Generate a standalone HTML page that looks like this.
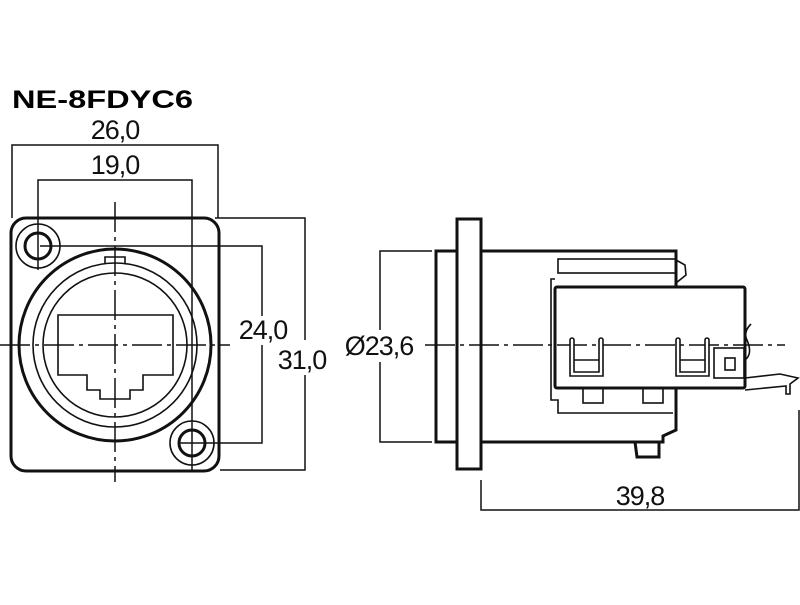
<!DOCTYPE html>
<html><head><style>html,body{margin:0;padding:0;background:#fff}</style></head><body>
<svg width="800" height="600" viewBox="0 0 800 600" xmlns="http://www.w3.org/2000/svg" font-family="Liberation Sans, sans-serif">
<rect width="800" height="600" fill="#fff"/>
<text x="12" y="108" font-size="25" font-weight="bold" textLength="181" lengthAdjust="spacingAndGlyphs">NE-8FDYC6</text>
<g font-size="27" fill="#111" text-anchor="middle" letter-spacing="-1">
<text x="115" y="139">26,0</text>
<text x="115" y="174">19,0</text>
<text x="263" y="339">24,0</text>
<text x="302" y="369">31,0</text>
<text x="379" y="355">Ø23,6</text>
<text x="640" y="505">39,8</text>
</g>
<g fill="none" stroke="#111" stroke-width="1.5">
<polyline points="12,218 12,145 218,145 218,218"/>
<polyline points="38,270 38,180 192,180 192,470"/>
<polyline points="40,246 262,246 262,316"/>
<polyline points="180,443 262,443 262,345"/>
<polyline points="215,218 305,218 305,340"/>
<polyline points="220,470 305,470 305,375"/>
<line x1="115" y1="202" x2="115" y2="482" stroke-dasharray="30,5,4,5"/>
<line x1="0" y1="345" x2="230" y2="345" stroke-dasharray="30,5,4,5"/>
<polyline points="432,251 380,251 380,330"/>
<polyline points="432,442 380,442 380,362"/>
<polyline points="481,480 481,510 799,510 799,410"/>
</g>
<g fill="none" stroke="#111" stroke-width="3">
<rect x="11" y="218" width="208" height="253" rx="15"/>
<circle cx="115" cy="345" r="96"/>
<circle cx="38" cy="246" r="13"/>
<circle cx="192" cy="443" r="13"/>
</g>
<g fill="none" stroke="#111" stroke-width="1.6">
<circle cx="115" cy="345" r="82"/>
<circle cx="115" cy="345" r="72"/>
<circle cx="38" cy="246" r="22"/>
<circle cx="192" cy="443" r="22"/>
<polyline points="105,264 105,257 125,257 125,264"/>
<polygon points="58,315 173,315 173,375 143,375 143,390 130,390 130,399 100,399 100,390 87,390 87,375 58,375"/>
</g>
<g fill="none" stroke="#111" stroke-width="3">
<rect x="457" y="219" width="24" height="250"/>
<rect x="436" y="251" width="21" height="191"/>
<polyline points="481,251 676,251 676,430 663,436 663,442 481,442"/>
<polyline points="635,442 637,457 659,457 659,442"/>
</g>
<g fill="none" stroke="#111" stroke-width="1.6">
<rect x="558" y="259" width="118" height="14"/>
<polyline points="676,260 685,265 686,275 676,283"/>
<polyline points="555,279 551,279 551,400 558,400 558,413 673,413"/>
<rect x="583" y="388" width="20" height="15"/>
<rect x="643" y="388" width="20" height="15"/>
</g>
<rect x="555" y="287" width="190" height="101" rx="2" fill="#fff" stroke="#111" stroke-width="3"/>
<line x1="425" y1="345" x2="785" y2="345" stroke="#111" stroke-width="1.5" stroke-dasharray="30,5,4,5"/>
<g fill="none" stroke="#111" stroke-width="1.6">
<path d="M570,345 v-5 a2,2 0 0 1 4,0 v32 h25 v-32 a2,2 0 0 1 4,0 v36 h-33 z" fill="#fff"/>
<line x1="574" y1="360" x2="599" y2="360"/>
<path d="M676,345 v-5 a2,2 0 0 1 4,0 v32 h25 v-32 a2,2 0 0 1 4,0 v36 h-33 z" fill="#fff"/>
<line x1="680" y1="360" x2="705" y2="360"/>
<rect x="714" y="348" width="30" height="30"/>
<rect x="725" y="358" width="10" height="12"/>
<path d="M745,360 q8,-6 2,-20 q-4,-8 4,-16"/>
<path d="M745,378 l35,-4 l18,4 l-8,6 v10 h-4 v-8 l-41,4"/>
</g>
</svg>
</body></html>
